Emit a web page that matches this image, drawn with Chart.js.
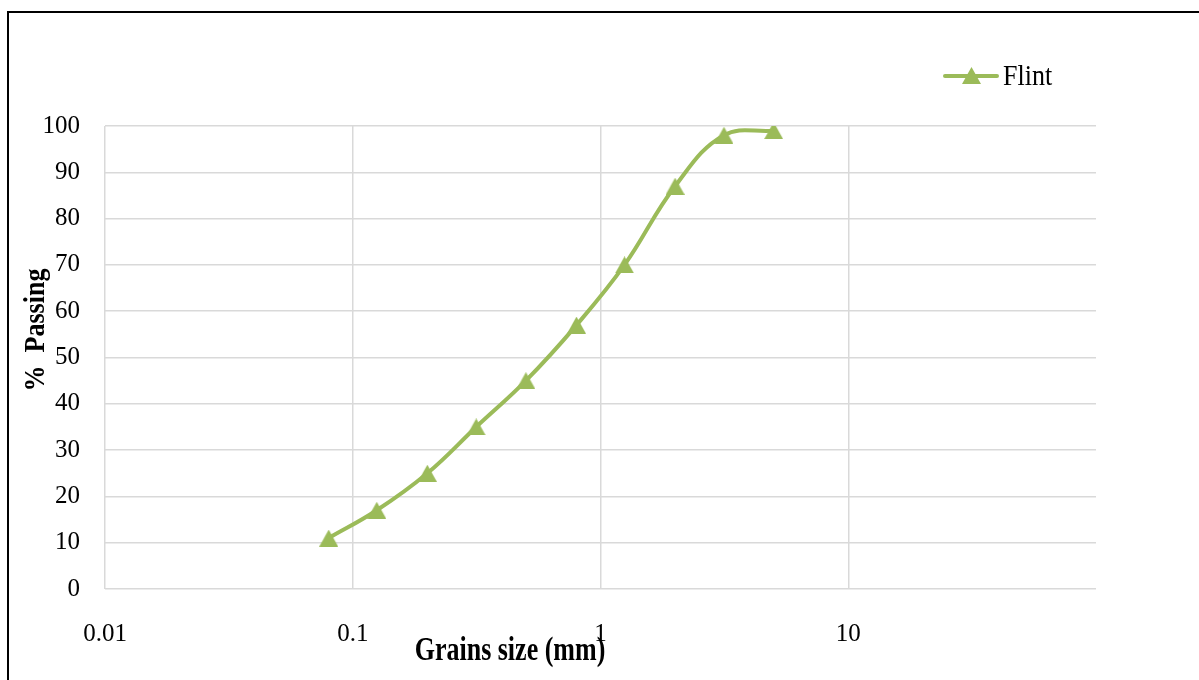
<!DOCTYPE html>
<html>
<head>
<meta charset="utf-8">
<script src="https://cdn.jsdelivr.net/npm/chart.js@4.4.1/dist/chart.umd.min.js"></script>
<style>
  html, body { margin: 0; padding: 0; background: #fff; }
  #wrap { position: relative; width: 1199px; height: 680px; overflow: hidden; }
  #frame { position: absolute; left: 7px; top: 11px; width: 1300px; height: 800px;
           border-left: 2px solid #000; border-top: 2px solid #000; }
  canvas { position: absolute; left: 0; top: 0; }
</style>
</head>
<body>
<div id="wrap">
  <div id="frame"></div>
  <canvas id="gradChart" width="1199" height="680"></canvas>
</div>
<script>
// dữ liệu
const grainSizes = [0.08, 0.125, 0.2, 0.315, 0.5, 0.8, 1.25, 2, 3.15, 5];
const passing = [11, 17, 25, 35, 45, 57, 70, 87, 98, 99];
const xTicks = [0.01, 0.1, 1, 10, 100];
const xTickLabels = ['0.01', '0.1', '1', '10', ''];
const yTicks = [0, 10, 20, 30, 40, 50, 60, 70, 80, 90, 100];
const seriesName = 'Flint';

const GREEN = '#9bbb59';
const GRID = '#d9d9d9';
const FONT = '"Liberation Serif", "Times New Roman", serif';

// tam giác làm marker (căn giữa theo khung)
function makeTriangle(w, h) {
    const c = document.createElement('canvas');
    c.width = w; c.height = h;
    const g = c.getContext('2d');
    g.fillStyle = GREEN;
    g.beginPath();
    g.moveTo(w / 2, 0);
    g.lineTo(w, h);
    g.lineTo(0, h);
    g.closePath();
    g.fill();
    return c;
}
const tri = makeTriangle(19, 17);

// chữ hơi kéo dãn theo chiều dọc như hình gốc
function stretchedText(ctx, text, x, y, sy) {
    ctx.save();
    ctx.translate(x, y);
    ctx.scale(1, sy);
    ctx.fillText(text, 0, 0);
    ctx.restore();
}

// tiêu đề trục + chú thích
const extras = {
    id: 'extras',
    afterDraw(chart) {
        const ctx = chart.ctx;
        ctx.save();
        ctx.fillStyle = '#000';
        ctx.font = 'bold 26px ' + FONT;
        ctx.textAlign = 'center';
        ctx.textBaseline = 'middle';
        stretchedText(ctx, 'Grains size (mm)', 510, 651, 1.3);

        ctx.save();
        ctx.translate(37, 330);
        ctx.rotate(-Math.PI / 2);
        stretchedText(ctx, '%  Passing', 0, 0, 1.1);
        ctx.restore();
        ctx.restore();

        // legend
        ctx.save();
        ctx.strokeStyle = GREEN;
        ctx.lineWidth = 4;
        ctx.lineCap = 'round';
        ctx.beginPath();
        ctx.moveTo(945, 76);
        ctx.lineTo(997, 76);
        ctx.stroke();
        ctx.drawImage(tri, 962, 67);
        ctx.fillStyle = '#000';
        ctx.font = '26px ' + FONT;
        ctx.textAlign = 'left';
        ctx.textBaseline = 'middle';
        stretchedText(ctx, seriesName, 1003, 77, 1.12);
        ctx.restore();
    }
};

new Chart(document.getElementById('gradChart'), {
    type: 'line',
    data: {
        datasets: [{
            label: seriesName,
            data: grainSizes.map((x, i) => ({ x: x, y: passing[i] })),
            borderColor: GREEN,
            backgroundColor: GREEN,
            borderWidth: 4,
            tension: 0.4,
            pointStyle: tri,
            pointRadius: 9,
            pointHoverRadius: 9
        }]
    },
    options: {
        responsive: false,
        animation: false,
        events: [],
        layout: { padding: { left: 0, top: 126, right: 103, bottom: 0 } },
        plugins: { legend: { display: false }, tooltip: { enabled: false } },
        scales: {
            x: {
                type: 'logarithmic',
                min: 0.01,
                max: 100,
                afterBuildTicks: s => { s.ticks = xTicks.map(v => ({ value: v })); },
                afterFit: s => { s.height = 91; },
                grid: {
                    drawTicks: false,
                    lineWidth: 1.5,
                    color: c => (c.tick && c.tick.value === 100) ? 'rgba(0,0,0,0)' : GRID
                },
                border: { display: false },
                ticks: {
                    autoSkip: false,
                    maxRotation: 0,
                    padding: 30,
                    color: '#000',
                    font: { family: FONT, size: 25 },
                    callback: (v, i) => xTickLabels[i]
                }
            },
            y: {
                min: 0,
                max: 100,
                afterBuildTicks: s => { s.ticks = yTicks.map(v => ({ value: v })); },
                afterFit: s => { s.width = 105; },
                grid: { drawTicks: false, lineWidth: 1.5, color: GRID },
                border: { display: false },
                ticks: {
                    padding: 25,
                    color: '#000',
                    font: { family: FONT, size: 25 }
                }
            }
        }
    },
    plugins: [extras]
});
</script>
</body>
</html>
